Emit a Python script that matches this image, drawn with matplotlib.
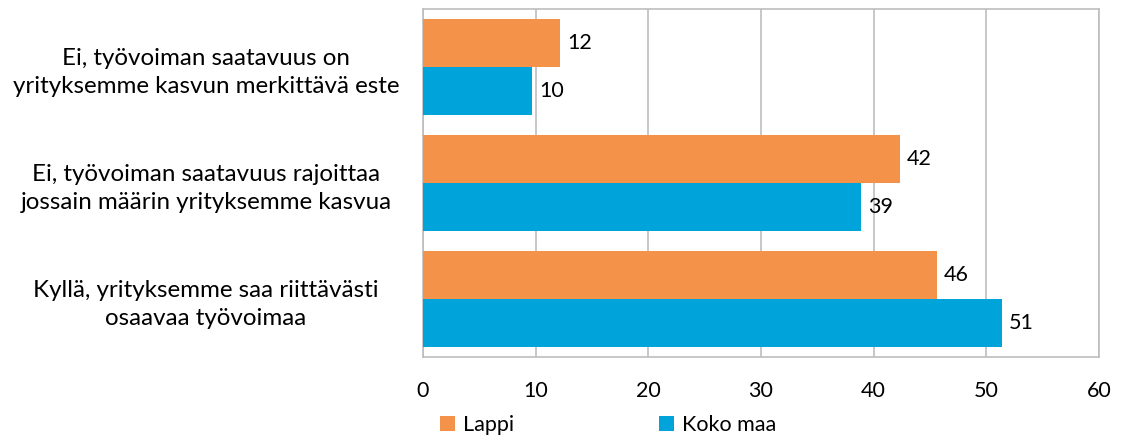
import matplotlib
matplotlib.use("Agg")
import matplotlib.pyplot as plt
import numpy as np

categories = [
    "Ei, työvoiman saatavuus on\nyrityksemme kasvun merkittävä este",
    "Ei, työvoiman saatavuus rajoittaa\njossain määrin yrityksemme kasvua",
    "Kyllä, yrityksemme saa riittävästi\nosaavaa työvoimaa",
]
series_names = ["Lappi", "Koko maa"]
lappi = [12.2, 42.3, 45.6]
koko_maa = [9.7, 38.9, 51.4]
xticks = [0, 10, 20, 30, 40, 50, 60]

colors = ["#F39248", "#00A4DA"]
plt.rcParams['font.family'] = ['Lato', 'DejaVu Sans']
fs = 15.5
fs_cat = 17.4

fig = plt.figure(figsize=(11.24, 4.41), dpi=100)
ax = fig.add_axes([423/1124, 1-357/441, 676/1124, 348/441])

n = len(categories)
y = np.arange(n)
h = 0.414
bars1 = ax.barh(y - h/2, lappi, height=h, color=colors[0], label=series_names[0], zorder=3)
bars2 = ax.barh(y + h/2, koko_maa, height=h, color=colors[1], label=series_names[1], zorder=3)
for bars, vals in [(bars1, lappi), (bars2, koko_maa)]:
    for b, v in zip(bars, vals):
        ax.annotate(f"{round(v):d}", (v, b.get_y() + b.get_height()/2), xytext=(5, 0),
                    textcoords="offset points", va="center", ha="left", fontsize=fs)

ax.set_ylim(n - 0.5, -0.5)
ax.set_xlim(0, 60)
ax.set_xticks(xticks)
ax.set_xticklabels([str(t) for t in xticks], fontsize=fs)
ax.set_yticks(y)
ax.set_yticklabels(categories, fontsize=fs_cat, ha="center", linespacing=1.42)
ax.tick_params(axis='y', length=0, pad=217*0.72)
ax.tick_params(axis='x', length=0, pad=17)
ax.grid(axis='x', color="#BDBDBD", linewidth=1.2, zorder=0)
for s in ax.spines.values():
    s.set_color("#BDBDBD")
    s.set_linewidth(1.2)

fig.legend(loc="center left", bbox_to_anchor=(440/1124, 1-425/441), ncol=2, frameon=False,
           fontsize=fs, handlelength=0.7, handleheight=0.7, handletextpad=0.35,
           columnspacing=6.75, borderaxespad=0, borderpad=0)

fig.savefig("out.png", dpi=100)
